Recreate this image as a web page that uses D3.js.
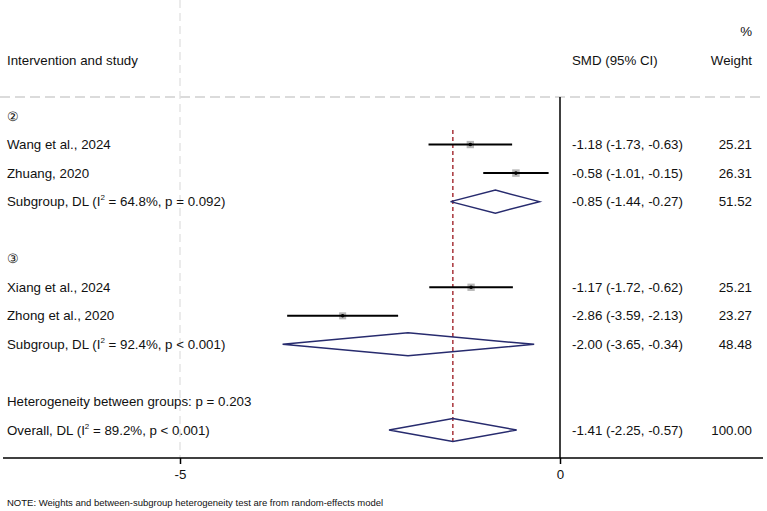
<!DOCTYPE html>
<html>
<head>
<meta charset="utf-8">
<script src="https://cdn.jsdelivr.net/npm/d3@7"></script>
<style>
  body { margin: 0; background: #fff; }
  text { font-family: "Liberation Sans", Arial, sans-serif; fill: #111; }
</style>
</head>
<body>
<svg id="chart" width="767" height="511"></svg>
<script>
// study level estimates
const studyNames = ["Wang et al., 2024", "Zhuang, 2020", "Xiang et al., 2024", "Zhong et al., 2020"];
const studyGroup = [0, 0, 1, 1];
const studyEst = [-1.18, -0.58, -1.17, -2.86];
const studyLo = [-1.73, -1.01, -1.72, -3.59];
const studyHi = [-0.63, -0.15, -0.62, -2.13];
const studyWeight = [25.21, 26.31, 25.21, 23.27];

// subgroup pooled estimates
const groupLabels = ["②", "③"];
const groupI2 = ["64.8%", "92.4%"];
const groupP = ["p = 0.092", "p < 0.001"];
const groupEst = [-0.85, -2.00];
const groupLo = [-1.44, -3.65];
const groupHi = [-0.27, -0.34];
const groupWeight = [51.52, 48.48];

// overall
const overallEst = -1.41, overallLo = -2.25, overallHi = -0.57;
const overallI2 = "89.2%", overallP = "p < 0.001";
const hetBetween = "p = 0.203";
const tickValues = [-5, 0];

const svg = d3.select("#chart");
const fs = 13.3;
const fmt = v => v.toFixed(2);
const ciText = (e, l, h) => `${fmt(e)} (${fmt(l)}, ${fmt(h)})`;

const x = d3.scaleLinear().domain([-5, 0]).range([180, 560]);
const rowY = d3.scaleLinear().domain([0, 11]).range([116, 430]);

// build row table
let rows = [];
let r = 0;
groupLabels.forEach((g, gi) => {
    rows.push({ row: r++, type: "head", label: g });
    studyNames.forEach((n, i) => {
        if (studyGroup[i] !== gi) return;
        rows.push({ row: r++, type: "study", label: n, est: studyEst[i], lo: studyLo[i], hi: studyHi[i], w: studyWeight[i] });
    });
    rows.push({ row: r++, type: "pool", label: "Subgroup, DL (I", sup: "2", rest: ` = ${groupI2[gi]}, ${groupP[gi]})`,
        est: groupEst[gi], lo: groupLo[gi], hi: groupHi[gi], w: groupWeight[gi] });
    r++;
});
rows.push({ row: r++, type: "note", label: "Heterogeneity between groups: " + hetBetween });
rows.push({ row: r++, type: "pool", label: "Overall, DL (I", sup: "2", rest: ` = ${overallI2}, ${overallP})`,
    est: overallEst, lo: overallLo, hi: overallHi, w: 100 });

const axisY = 458;

// grey dashed guides
svg.append("line").attr("x1", 0).attr("x2", 763).attr("y1", 97).attr("y2", 97)
    .attr("stroke", "#cfcfcf").attr("stroke-width", 1.3).attr("stroke-dasharray", "10,5");
svg.append("line").attr("x1", x(-5)).attr("x2", x(-5)).attr("y1", 0).attr("y2", axisY)
    .attr("stroke", "#e0e0e0").attr("stroke-width", 1.3).attr("stroke-dasharray", "8,5");

// null line
svg.append("line").attr("x1", x(0)).attr("x2", x(0)).attr("y1", 97).attr("y2", axisY)
    .attr("stroke", "#000").attr("stroke-width", 1.5);

// overall estimate line
svg.append("line").attr("x1", x(overallEst)).attr("x2", x(overallEst)).attr("y1", 130).attr("y2", 442)
    .attr("stroke", "#a8343a").attr("stroke-width", 1.5).attr("stroke-dasharray", "4,3");

// headers
svg.append("text").attr("x", 7).attr("y", 60).attr("dy", "0.35em").attr("font-size", fs).text("Intervention and study");
svg.append("text").attr("x", 572).attr("y", 60).attr("dy", "0.35em").attr("font-size", fs).text("SMD (95% CI)");
svg.append("text").attr("x", 752).attr("y", 60).attr("dy", "0.35em").attr("font-size", fs).attr("text-anchor", "end").text("Weight");
svg.append("text").attr("x", 752).attr("y", 31).attr("dy", "0.35em").attr("font-size", fs).attr("text-anchor", "end").text("%");

// labels
rows.forEach(d => {
    const t = svg.append("text").attr("x", 7).attr("y", rowY(d.row)).attr("dy", "0.35em").attr("font-size", fs);
    if (d.sup) {
        t.append("tspan").text(d.label);
        t.append("tspan").attr("font-size", 8).attr("dy", "-0.75em").text(d.sup);
        t.append("tspan").attr("dy", "0.45em").text(d.rest);
    } else {
        t.text(d.label);
    }
    if (d.est !== undefined) {
        svg.append("text").attr("x", 572).attr("y", rowY(d.row)).attr("dy", "0.35em").attr("font-size", fs)
            .text(ciText(d.est, d.lo, d.hi));
        svg.append("text").attr("x", 752).attr("y", rowY(d.row)).attr("dy", "0.35em").attr("font-size", fs)
            .attr("text-anchor", "end").text(fmt(d.w));
    }
});

// study markers
const studies = rows.filter(d => d.type === "study");
const size = d3.scaleSqrt().domain([0, 30]).range([0, 8]);
svg.selectAll(".box").data(studies).enter().append("rect")
    .attr("x", d => x(d.est) - size(d.w) / 2).attr("y", d => rowY(d.row) - size(d.w) / 2)
    .attr("width", d => size(d.w)).attr("height", d => size(d.w)).attr("fill", "#b8b8b8");
svg.selectAll(".ci").data(studies).enter().append("line")
    .attr("x1", d => x(d.lo)).attr("x2", d => x(d.hi))
    .attr("y1", d => rowY(d.row)).attr("y2", d => rowY(d.row))
    .attr("stroke", "#000").attr("stroke-width", 2);
svg.selectAll(".dot").data(studies).enter().append("circle")
    .attr("cx", d => x(d.est)).attr("cy", d => rowY(d.row)).attr("r", 1.8).attr("fill", "#000");

// diamonds
const pools = rows.filter(d => d.type === "pool");
svg.selectAll(".diamond").data(pools).enter().append("path")
    .attr("d", d => {
        const y = rowY(d.row), h = 11.5;
        return `M${x(d.lo)},${y}L${x(d.est)},${y - h}L${x(d.hi)},${y}L${x(d.est)},${y + h}Z`;
    })
    .attr("fill", "none").attr("stroke", "#272b6e").attr("stroke-width", 1.5);

// axis
svg.append("line").attr("x1", 3).attr("x2", 763).attr("y1", axisY).attr("y2", axisY)
    .attr("stroke", "#000").attr("stroke-width", 1.5);
const axis = svg.append("g").attr("transform", `translate(0,${axisY})`)
    .call(d3.axisBottom(x).tickValues(tickValues).tickFormat(d => String(d)).tickSize(6).tickSizeOuter(0).tickPadding(6));
axis.select(".domain").remove();
axis.selectAll(".tick line").attr("stroke-width", 1.5);
axis.selectAll(".tick text").attr("font-size", fs).attr("font-family", "Liberation Sans, Arial, sans-serif").attr("fill", "#111");

svg.append("text").attr("x", 7).attr("y", 503).attr("dy", "0.35em").attr("font-size", 9.5)
    .text("NOTE: Weights and between-subgroup heterogeneity test are from random-effects model");
</script>
</body>
</html>
